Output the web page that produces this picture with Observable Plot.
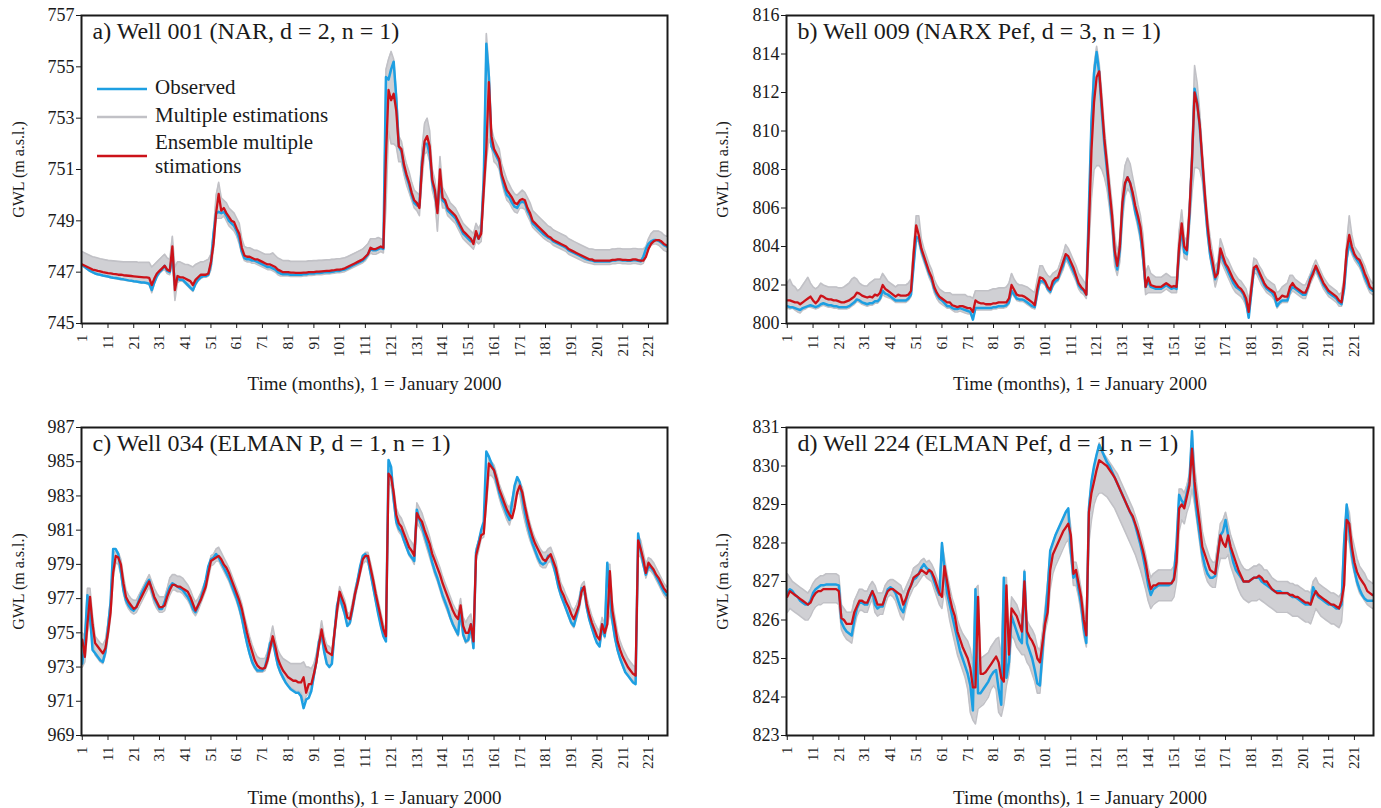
<!DOCTYPE html>
<html>
<head>
<meta charset="utf-8">
<script src="https://cdn.jsdelivr.net/npm/d3@7"></script>
<script src="https://cdn.jsdelivr.net/npm/@observablehq/plot@0.6"></script>
<style>
  html, body { margin: 0; padding: 0; background: #fff; }
  #page { position: relative; width: 1381px; height: 808px; overflow: hidden; background: #fff;
          font-family: "Liberation Serif", "Times New Roman", serif; }
  .panel { position: absolute; }
  .panel svg { display: block; overflow: visible; }
  #legend { position: absolute; left: 0; top: 0; pointer-events: none; }
</style>
</head>
<body>
<div id="page"></div>
<script>
// Monthly time axis: 1 = January 2000, 228 = December 2018
const months = d3.range(1, 229);
const xTickMonths = [1, 11, 21, 31, 41, 51, 61, 71, 81, 91, 101, 111, 121, 131, 141, 151, 161, 171, 181, 191, 201, 211, 221];

const xLabel = "Time (months), 1 = January 2000";
const yLabel = "GWL (m a.s.l.)";
const seriesNames = ["Observed", "Multiple estimations", ["Ensemble multiple", "stimations"]];

// ---------- Well 001 (NAR, d = 2, n = 1) ----------
const ticks001 = [745, 747, 749, 751, 753, 755, 757];
const obs001 = [
  747.28,747.20,747.12,747.05,747.00,746.95,746.92,746.90,746.87,746.85,746.83,746.80,
  746.78,746.77,746.75,746.73,746.72,746.70,746.68,746.67,746.65,746.64,746.62,746.60,
  746.60,746.58,746.55,746.30,746.60,746.85,747.00,747.10,747.25,747.05,747.00,747.70,
  746.50,746.75,746.70,746.70,746.60,746.50,746.40,746.30,746.55,746.70,746.80,746.85,
  746.85,746.90,747.30,748.50,749.30,749.35,749.30,749.35,749.20,749.00,748.90,748.80,
  748.60,748.30,747.80,747.55,747.50,747.50,747.45,747.45,747.40,747.35,747.30,747.25,
  747.20,747.20,747.15,747.10,747.00,746.95,746.92,746.92,746.92,746.90,746.90,746.90,
  746.90,746.90,746.92,746.92,746.95,746.95,746.95,746.97,746.97,746.98,747.00,747.00,
  747.00,747.02,747.03,747.05,747.05,747.08,747.10,747.15,747.20,747.25,747.30,747.35,
  747.40,747.45,747.55,747.70,747.90,747.85,747.85,747.90,747.95,747.90,754.60,754.50,
  754.90,755.20,753.80,751.90,751.70,751.10,750.70,750.40,750.00,749.70,749.60,749.60,
  751.30,752.00,752.00,751.60,750.50,750.10,749.40,750.60,749.80,749.70,749.40,749.30,
  749.20,749.10,748.90,748.70,748.50,748.40,748.30,748.20,748.20,748.50,748.30,748.60,
  750.60,755.90,754.60,751.90,751.70,751.50,751.30,750.70,750.30,750.00,749.90,749.70,
  749.55,749.50,749.70,749.75,749.70,749.40,749.20,748.90,748.80,748.70,748.60,748.50,
  748.42,748.35,748.30,748.20,748.15,748.10,748.05,748.00,747.95,747.85,747.80,747.75,
  747.70,747.65,747.60,747.55,747.50,747.47,747.45,747.42,747.42,747.42,747.42,747.42,
  747.42,747.42,747.45,747.45,747.47,747.47,747.45,747.45,747.44,747.44,747.46,747.46,
  747.44,747.42,747.60,747.90,748.10,748.20,748.25,748.25,748.22,748.15,748.05,748.00
];
const ens001 = [
  747.30,747.25,747.20,747.15,747.10,747.08,747.05,747.03,747.00,746.98,746.96,746.95,
  746.93,746.92,746.90,746.90,746.88,746.87,746.86,746.85,746.84,746.83,746.82,746.81,
  746.80,746.80,746.78,746.50,746.75,746.95,747.05,747.15,747.25,747.10,747.05,748.00,
  746.30,746.85,746.80,746.80,746.75,746.70,746.65,746.50,746.70,746.80,746.90,746.90,
  746.90,746.95,747.40,748.10,749.30,750.05,749.40,749.50,749.30,749.15,749.00,748.95,
  748.70,748.50,747.95,747.65,747.60,747.60,747.55,747.50,747.50,747.45,747.40,747.35,
  747.30,747.30,747.25,747.20,747.10,747.05,747.00,747.00,747.00,746.98,746.98,746.97,
  746.97,746.97,746.98,746.98,747.00,747.00,747.00,747.02,747.02,747.03,747.04,747.05,
  747.05,747.07,747.08,747.10,747.10,747.12,747.15,747.20,747.25,747.30,747.35,747.40,
  747.45,747.50,747.60,747.70,747.95,747.90,747.90,747.95,748.00,747.95,751.50,754.10,
  753.70,753.95,753.30,751.90,751.80,751.20,750.80,750.50,750.10,749.80,749.70,749.50,
  751.10,752.10,752.30,751.90,750.60,750.20,749.30,751.00,749.90,749.80,749.50,749.40,
  749.30,749.20,749.00,748.80,748.60,748.50,748.40,748.30,748.10,748.60,748.30,748.50,
  750.20,751.80,754.40,752.30,751.80,751.60,751.40,750.80,750.50,750.20,750.05,749.90,
  749.70,749.65,749.80,749.85,749.80,749.50,749.30,749.00,748.90,748.80,748.70,748.60,
  748.50,748.40,748.35,748.25,748.20,748.15,748.10,748.05,748.00,747.90,747.85,747.80,
  747.75,747.70,747.65,747.60,747.55,747.50,747.50,747.45,747.45,747.45,747.45,747.45,
  747.45,747.45,747.48,747.48,747.50,747.50,747.48,747.48,747.47,747.47,747.50,747.50,
  747.47,747.45,747.45,747.60,747.90,748.10,748.20,748.25,748.25,748.20,748.10,748.05
];
const estHi001 = [
  747.80,747.75,747.70,747.65,747.60,747.58,747.55,747.52,747.50,747.48,747.46,747.45,
  747.44,747.43,747.42,747.41,747.40,747.40,747.40,747.40,747.40,747.40,747.38,747.38,
  747.38,747.38,747.38,747.20,747.30,747.40,747.50,747.60,747.70,747.55,747.50,748.40,
  747.20,747.40,747.40,747.35,747.30,747.30,747.25,747.20,747.30,747.35,747.40,747.40,
  747.45,747.50,747.70,748.60,750.00,750.50,749.90,749.80,749.70,749.50,749.40,749.30,
  749.10,748.90,748.30,748.00,747.95,747.95,747.90,747.85,747.85,747.80,747.75,747.70,
  747.70,747.70,747.75,747.65,747.55,747.50,747.45,747.45,747.45,747.42,747.42,747.42,
  747.42,747.42,747.42,747.42,747.44,747.44,747.45,747.45,747.46,747.46,747.47,747.48,
  747.48,747.50,747.50,747.52,747.52,747.54,747.56,747.60,747.65,747.70,747.75,747.80,
  747.85,747.90,748.00,748.10,748.30,748.30,748.30,748.35,748.30,748.25,754.90,755.30,
  755.60,755.30,754.00,752.30,752.10,751.60,751.20,750.90,750.50,750.20,750.10,750.00,
  751.80,752.80,753.00,752.50,751.00,750.60,749.80,751.50,750.30,750.10,749.90,749.70,
  749.60,749.50,749.30,749.10,748.90,748.80,748.70,748.60,748.50,748.90,748.70,748.90,
  751.00,756.30,755.00,752.60,752.20,752.00,751.80,751.20,750.90,750.60,750.40,750.20,
  750.05,750.00,750.10,750.20,750.10,749.90,749.70,749.40,749.30,749.20,749.10,749.00,
  748.90,748.80,748.75,748.65,748.60,748.55,748.50,748.45,748.40,748.30,748.25,748.20,
  748.15,748.10,748.05,748.00,747.95,747.90,747.90,747.88,747.87,747.87,747.87,747.87,
  747.87,747.87,747.90,747.90,747.92,747.92,747.90,747.90,747.90,747.90,747.92,747.92,
  747.90,747.90,747.90,748.00,748.30,748.50,748.60,748.60,748.60,748.55,748.45,748.40
];
const estLo001 = [
  747.25,747.18,747.10,747.03,746.98,746.93,746.90,746.88,746.85,746.83,746.81,746.78,
  746.76,746.75,746.73,746.71,746.70,746.68,746.66,746.65,746.63,746.62,746.60,746.58,
  746.58,746.56,746.53,746.20,746.55,746.80,746.95,747.05,747.10,746.95,746.90,747.40,
  745.90,746.60,746.65,746.65,746.55,746.45,746.35,746.25,746.50,746.65,746.75,746.80,
  746.80,746.85,747.10,747.90,749.10,749.10,749.10,749.20,749.00,748.80,748.70,748.60,
  748.40,748.10,747.70,747.45,747.40,747.40,747.35,747.35,747.30,747.25,747.20,747.15,
  747.10,747.10,747.05,747.00,746.90,746.85,746.85,746.85,746.85,746.83,746.83,746.83,
  746.83,746.83,746.85,746.85,746.87,746.87,746.88,746.90,746.90,746.90,746.92,746.93,
  746.93,746.95,746.96,746.98,746.98,747.00,747.02,747.07,747.12,747.17,747.22,747.27,
  747.32,747.37,747.45,747.60,747.75,747.70,747.70,747.75,747.80,747.75,749.50,752.50,
  752.00,752.00,751.90,751.30,751.30,750.80,750.40,750.10,749.80,749.50,749.40,749.20,
  750.60,751.60,751.70,751.30,750.20,749.80,748.60,750.20,749.50,749.50,749.20,749.10,
  749.00,748.90,748.70,748.50,748.30,748.20,748.10,748.00,747.90,748.20,748.10,748.20,
  749.80,751.30,752.20,751.90,751.30,751.20,751.00,750.50,750.10,749.80,749.70,749.50,
  749.35,749.30,749.50,749.50,749.45,749.20,749.00,748.75,748.65,748.55,748.45,748.35,
  748.27,748.20,748.15,748.05,748.00,747.95,747.90,747.85,747.80,747.70,747.65,747.60,
  747.55,747.50,747.45,747.40,747.38,747.35,747.33,747.30,747.30,747.30,747.30,747.30,
  747.30,747.30,747.33,747.33,747.35,747.35,747.33,747.33,747.32,747.32,747.34,747.34,
  747.32,747.30,747.35,747.60,747.90,748.05,748.10,748.10,748.05,747.95,747.85,747.80
];

// ---------- Well 009 (NARX Pef, d = 3, n = 1) ----------
const ticks009 = [800, 802, 804, 806, 808, 810, 812, 814, 816];
const obs009 = [
  800.9,800.85,800.85,800.8,800.75,800.7,800.8,800.85,800.9,800.95,800.9,800.85,
  800.9,801.0,801.05,801.0,800.95,800.95,800.9,800.9,800.85,800.85,800.85,800.85,
  800.9,801.0,801.1,801.25,801.2,801.1,801.05,801.0,801.05,801.05,801.15,801.15,
  801.3,801.7,801.55,801.5,801.4,801.3,801.2,801.2,801.2,801.2,801.2,801.3,
  801.5,803.0,804.5,804.4,803.8,803.4,803.0,802.6,802.3,801.8,801.5,801.3,
  801.2,801.05,800.9,800.9,800.8,800.75,800.75,800.8,800.75,800.7,800.65,800.6,
  800.2,800.8,800.8,800.8,800.8,800.8,800.8,800.8,800.85,800.85,800.9,800.9,
  800.9,800.95,801.1,801.7,801.5,801.3,801.25,801.25,801.2,801.1,801.0,800.9,
  800.85,801.6,802.2,802.2,802.1,801.8,801.65,802.0,802.2,802.3,802.7,803.0,
  803.5,803.3,803.0,802.7,802.4,802.0,801.8,801.7,801.5,806.0,810.5,813.0,
  814.1,813.0,811.0,809.3,808.0,806.6,805.3,803.6,802.8,803.8,806.0,807.2,
  807.6,807.3,806.6,805.8,805.3,804.6,803.4,801.9,802.2,801.9,801.85,801.8,
  801.8,801.8,801.9,802.0,801.9,801.8,801.85,801.8,803.8,804.9,803.7,803.6,
  805.6,808.5,812.2,811.5,810.2,808.3,806.4,804.8,803.6,802.9,802.3,802.8,
  803.7,803.3,803.0,802.7,802.4,802.1,801.9,801.8,801.7,801.5,801.1,800.3,
  801.6,802.8,802.9,802.6,802.3,802.0,801.8,801.7,801.6,801.4,800.9,801.1,
  801.2,801.2,801.2,801.7,801.9,801.8,801.7,801.6,801.5,801.5,801.9,802.4,
  802.7,802.9,802.6,802.3,802.0,801.8,801.6,801.5,801.4,801.3,801.1,801.0,
  801.8,803.4,804.2,803.8,803.5,803.3,803.1,802.8,802.4,802.1,801.8,801.7
];
const ens009 = [
  801.2,801.2,801.15,801.1,801.1,801.0,801.1,801.2,801.3,801.4,801.2,801.05,
  801.2,801.45,801.4,801.3,801.25,801.25,801.2,801.2,801.15,801.1,801.1,801.15,
  801.2,801.3,801.4,801.6,801.55,801.45,801.4,801.35,801.4,801.35,801.5,801.45,
  801.6,802.0,801.8,801.7,801.6,801.5,801.4,801.5,801.45,801.45,801.45,801.5,
  801.7,803.6,805.1,804.6,803.9,803.5,803.1,802.7,802.4,801.9,801.6,801.4,
  801.3,801.2,801.1,801.1,800.95,800.9,800.85,800.9,800.9,800.85,800.8,800.8,
  800.6,801.2,801.1,801.05,801.05,801.0,801.0,801.0,801.05,801.05,801.1,801.1,
  801.1,801.1,801.3,802.0,801.75,801.5,801.45,801.45,801.4,801.3,801.2,801.1,
  800.95,801.8,802.4,802.35,802.2,801.9,801.75,802.2,802.35,802.4,802.8,803.2,
  803.6,803.5,803.2,802.9,802.5,802.1,801.9,801.75,801.5,805.0,809.0,811.5,
  812.8,813.1,811.4,809.6,808.3,806.9,805.6,803.8,803.0,804.0,806.3,807.3,
  807.6,807.3,806.8,806.1,805.6,805.0,803.8,801.9,802.4,802.0,801.95,801.9,
  801.9,801.9,802.0,802.1,802.0,801.9,801.95,801.9,804.0,805.2,804.0,803.8,
  805.8,808.5,812.0,811.4,810.3,808.5,806.7,805.1,803.9,803.2,802.4,802.6,
  803.9,803.5,803.1,802.9,802.6,802.3,802.1,801.9,801.8,801.6,801.3,800.6,
  801.8,802.9,803.0,802.7,802.4,802.1,801.9,801.8,801.7,801.6,801.2,801.3,
  801.45,801.4,801.4,801.9,802.1,801.9,801.8,801.7,801.6,801.6,801.9,802.3,
  802.6,803.0,802.7,802.4,802.1,801.9,801.7,801.6,801.5,801.4,801.2,801.1,
  802.1,803.8,804.6,804.0,803.6,803.4,803.3,803.0,802.6,802.3,801.9,801.8
];
const estHi009 = [
  802.1,802.3,802.0,801.9,801.7,801.8,802.0,802.2,802.4,802.1,801.9,801.8,
  801.9,802.1,802.0,801.95,801.9,801.9,801.9,801.9,801.85,801.85,801.9,802.0,
  802.1,802.3,802.4,802.3,802.1,802.0,801.95,801.95,802.1,802.2,802.3,802.3,
  802.3,802.6,802.4,802.2,802.1,802.0,801.9,802.0,802.0,802.0,802.0,802.1,
  802.3,804.0,805.6,805.6,804.4,803.9,803.5,803.1,802.8,802.3,802.0,801.8,
  801.7,801.6,801.6,801.6,801.5,801.5,801.5,801.5,801.5,801.5,801.4,801.4,
  801.3,801.7,801.7,801.7,801.7,801.7,801.7,801.75,801.8,801.8,801.85,801.85,
  801.85,801.9,802.1,802.6,802.3,802.1,802.0,802.0,801.95,801.9,801.8,801.7,
  801.6,802.3,803.0,803.0,802.7,802.5,802.4,802.6,802.7,802.8,803.2,803.6,
  804.1,803.9,803.6,803.3,803.0,802.6,802.4,802.2,802.0,806.2,810.8,813.4,
  814.4,813.5,812.0,810.2,808.8,807.5,806.2,804.6,803.6,804.5,807.0,808.2,
  808.6,808.3,807.6,806.9,806.2,805.6,804.6,802.6,803.0,802.6,802.5,802.4,
  802.4,802.4,802.5,802.6,802.5,802.4,802.4,802.4,804.8,805.9,804.5,804.3,
  806.3,809.2,813.4,812.5,811.0,809.0,807.2,805.6,804.5,803.7,802.9,803.2,
  804.4,804.0,803.5,803.3,803.0,802.7,802.5,802.3,802.2,802.0,801.8,801.2,
  802.2,803.4,803.3,803.0,802.8,802.5,802.3,802.2,802.1,802.0,801.6,801.7,
  801.9,802.0,802.1,802.5,802.5,802.3,802.2,802.1,802.0,802.0,802.3,802.6,
  803.0,803.3,803.0,802.7,802.4,802.2,802.0,801.9,801.8,801.7,801.5,801.6,
  802.4,804.2,805.6,804.6,804.0,803.8,803.6,803.3,803.0,802.6,802.3,802.1
];
const estLo009 = [
  800.8,800.75,800.8,800.7,800.6,800.55,800.7,800.75,800.85,800.85,800.8,800.75,
  800.8,800.9,800.95,800.9,800.85,800.85,800.8,800.8,800.75,800.75,800.75,800.75,
  800.8,800.9,801.0,801.15,801.1,801.0,800.95,800.9,800.95,800.95,801.05,801.05,
  801.2,801.5,801.4,801.35,801.3,801.2,801.1,801.1,801.1,801.1,801.1,801.2,
  801.4,802.9,804.4,804.2,803.6,803.2,802.8,802.4,802.1,801.6,801.3,801.1,
  801.0,800.9,800.8,800.8,800.7,800.6,800.6,800.65,800.6,800.55,800.5,800.5,
  800.3,800.7,800.7,800.7,800.7,800.7,800.7,800.7,800.75,800.75,800.8,800.8,
  800.8,800.85,801.0,801.6,801.4,801.2,801.15,801.15,801.1,801.0,800.9,800.8,
  800.75,801.4,802.1,802.1,802.0,801.7,801.55,801.9,802.1,802.2,802.5,802.8,
  803.3,803.1,802.8,802.5,802.2,801.8,801.6,801.5,801.3,804.0,806.5,808.0,
  808.2,808.2,808.0,807.6,807.0,806.0,804.8,803.0,802.5,803.2,805.3,806.6,
  807.0,806.8,806.3,805.6,805.0,804.3,803.2,801.5,801.6,801.6,801.6,801.6,
  801.6,801.6,801.7,801.8,801.7,801.6,801.6,801.6,803.2,804.4,803.4,803.3,
  805.0,806.8,808.1,808.1,808.0,807.4,806.0,804.5,803.4,802.7,801.9,802.4,
  803.3,803.0,802.7,802.4,802.1,801.8,801.6,801.5,801.4,801.2,800.9,800.3,
  801.4,802.6,802.6,802.3,802.0,801.8,801.6,801.5,801.4,801.2,800.8,801.0,
  801.1,801.1,801.1,801.5,801.7,801.6,801.5,801.4,801.3,801.3,801.7,802.1,
  802.4,802.7,802.4,802.1,801.8,801.6,801.4,801.3,801.2,801.1,800.9,800.9,
  801.7,803.2,804.0,803.6,803.3,803.1,802.9,802.6,802.2,801.9,801.6,801.5
];

// ---------- Well 034 (ELMAN P, d = 1, n = 1) ----------
const ticks034 = [969, 971, 973, 975, 977, 979, 981, 983, 985, 987];
const obs034 = [
  973.2,974.5,977.2,976.0,974.0,973.8,973.6,973.4,973.3,973.9,975.3,976.8,
  979.9,979.9,979.6,978.6,977.5,976.9,976.6,976.4,976.3,976.5,976.9,977.3,
  977.6,977.9,978.1,977.5,977.0,976.7,976.4,976.4,976.8,977.3,977.7,977.9,
  977.8,977.7,977.6,977.5,977.3,977.1,976.8,976.4,976.2,976.6,977.0,977.5,
  978.1,978.9,979.3,979.4,979.6,979.4,979.1,978.8,978.5,978.2,977.8,977.4,
  977.0,976.5,975.9,975.1,974.4,973.8,973.3,973.0,972.8,972.8,972.8,973.0,
  973.6,974.4,974.6,973.8,973.1,972.7,972.4,972.1,971.9,971.7,971.6,971.5,
  971.5,971.3,970.6,971.1,971.2,971.6,972.5,973.4,974.5,974.9,973.9,973.2,
  973.0,973.2,975.0,976.6,977.2,976.6,976.1,975.4,975.6,976.4,977.3,978.1,
  978.9,979.5,979.6,979.3,978.5,977.7,976.9,976.1,975.4,974.8,974.5,985.1,
  984.7,982.8,981.5,981.1,980.9,980.4,980.0,979.6,979.4,979.2,982.2,981.6,
  981.2,980.7,980.2,979.7,979.1,978.6,978.2,977.7,977.2,976.8,976.4,975.9,
  975.5,975.2,974.9,976.4,974.9,974.5,974.6,975.5,974.1,979.7,980.3,981.0,
  981.5,985.6,985.3,984.9,984.5,983.8,983.2,982.7,982.3,981.9,981.6,982.6,
  983.6,984.1,983.8,982.9,982.0,981.3,980.7,980.2,979.8,979.4,979.1,979.0,
  979.1,979.5,979.5,979.0,978.4,977.7,977.2,976.8,976.4,976.0,975.6,975.4,
  976.0,976.6,977.6,977.6,976.5,975.8,975.3,974.8,974.4,974.2,975.5,974.8,
  979.1,977.0,975.7,974.7,974.0,973.5,973.1,972.7,972.5,972.3,972.1,972.0,
  980.8,979.8,979.0,978.4,978.9,978.8,978.6,978.3,978.0,977.7,977.4,977.2
];
const ens034 = [
  974.6,973.6,975.5,977.1,975.5,974.4,974.2,974.0,973.8,974.1,975.0,976.2,
  978.5,979.5,979.4,979.0,977.9,977.1,976.8,976.6,976.4,976.5,976.8,977.1,
  977.4,977.7,978.0,977.6,977.1,976.8,976.5,976.5,976.6,977.1,977.5,977.8,
  977.8,977.7,977.7,977.6,977.5,977.4,977.1,976.7,976.3,976.6,976.9,977.3,
  977.7,978.5,979.2,979.3,979.4,979.5,979.3,979.0,978.8,978.5,978.1,977.7,
  977.3,976.9,976.4,975.7,975.0,974.4,973.9,973.4,973.1,972.95,972.9,972.95,
  973.4,974.1,974.8,974.2,973.5,973.1,972.8,972.6,972.4,972.3,972.2,972.2,
  972.1,972.1,972.4,971.5,972.0,972.0,972.6,973.3,974.3,975.2,974.4,973.9,
  973.8,973.7,975.0,976.3,977.4,977.0,976.6,975.9,975.8,976.5,977.3,977.9,
  978.6,979.3,979.5,979.5,978.8,978.1,977.3,976.6,975.9,975.2,974.8,984.3,
  984.1,983.2,981.9,981.4,981.2,980.8,980.4,980.0,979.8,979.5,982.0,981.7,
  981.5,981.0,980.6,980.2,979.6,979.2,978.8,978.4,977.9,977.5,977.1,976.7,
  976.3,976.0,975.8,976.6,975.4,975.0,975.0,975.5,974.5,979.5,980.1,980.7,
  980.8,982.8,984.9,984.7,984.5,984.0,983.4,983.0,982.6,982.2,981.9,981.7,
  982.3,983.2,983.6,983.2,982.4,981.7,981.1,980.6,980.2,979.9,979.6,979.3,
  979.2,979.4,979.6,979.2,978.8,978.1,977.5,977.2,976.8,976.5,976.1,975.8,
  976.2,976.6,977.4,977.7,976.7,976.1,975.6,975.2,974.8,974.6,975.5,975.0,
  975.5,978.6,976.3,975.4,974.5,974.0,973.6,973.3,973.0,972.8,972.6,972.5,
  980.4,979.9,979.3,978.5,979.1,978.9,978.7,978.4,978.2,977.9,977.6,977.4
];
const estHi034 = [
  975.0,974.8,977.6,977.6,976.0,974.8,974.6,974.4,974.3,974.6,975.6,977.0,
  979.6,979.8,979.7,979.3,978.3,977.5,977.2,977.0,976.9,976.9,977.2,977.5,
  977.8,978.1,978.4,978.0,977.6,977.3,977.1,977.1,977.1,977.6,978.2,978.4,
  978.4,978.3,978.3,978.2,978.0,977.8,977.5,977.1,976.8,977.0,977.3,977.7,
  978.1,978.8,979.5,979.6,979.9,980.0,979.7,979.4,979.1,978.8,978.4,978.0,
  977.6,977.2,976.7,976.0,975.4,974.8,974.3,973.9,973.6,973.5,973.5,973.5,
  973.9,974.6,975.4,974.6,974.0,973.7,973.5,973.4,973.3,973.2,973.2,973.2,
  973.2,973.2,973.3,973.0,973.0,972.9,973.2,973.8,974.7,975.7,974.8,974.3,
  974.2,974.0,975.3,976.6,977.7,977.3,976.9,976.2,976.1,976.8,977.6,978.2,
  978.9,979.5,979.7,979.7,979.1,978.4,977.6,976.9,976.2,975.5,975.1,985.0,
  984.6,983.5,982.3,981.9,981.7,981.3,980.9,980.5,980.3,980.0,982.6,982.3,
  982.0,981.5,981.1,980.6,980.0,979.6,979.2,978.8,978.3,977.9,977.5,977.1,
  976.7,976.4,976.2,977.0,975.9,975.6,975.9,976.1,975.2,979.9,980.4,981.0,
  981.2,983.2,985.2,985.0,984.8,984.3,983.7,983.3,982.9,982.5,982.3,982.8,
  983.6,983.9,983.8,983.5,982.7,982.0,981.4,980.9,980.5,980.2,979.9,979.7,
  979.7,979.9,980.0,979.6,979.2,978.5,977.9,977.6,977.2,976.9,976.5,976.3,
  976.6,977.0,977.8,978.0,977.1,976.5,976.0,975.6,975.3,975.1,975.9,975.5,
  979.0,979.0,976.8,975.9,975.0,974.5,974.1,973.8,973.5,973.3,973.1,973.0,
  980.7,980.4,979.7,979.0,979.4,979.3,979.1,978.8,978.5,978.2,977.9,977.7
];
const estLo034 = [
  973.0,973.3,975.0,975.8,974.8,973.7,973.5,973.3,973.2,973.7,974.7,975.9,
  978.2,979.1,979.0,978.4,977.3,976.7,976.4,976.2,976.1,976.2,976.5,976.8,
  977.1,977.4,977.7,977.2,976.7,976.4,976.2,976.2,976.3,976.8,977.2,977.5,
  977.5,977.4,977.4,977.3,977.1,976.9,976.6,976.2,976.0,976.3,976.7,977.1,
  977.5,978.2,978.9,979.0,979.2,979.2,978.9,978.6,978.3,978.0,977.6,977.2,
  976.8,976.3,975.7,975.0,974.3,973.7,973.2,972.9,972.7,972.7,972.7,972.8,
  973.2,973.9,974.4,973.7,973.0,972.6,972.3,972.1,971.9,971.8,971.7,971.6,
  971.6,971.5,971.0,971.3,971.5,971.7,972.4,973.2,974.2,974.7,973.8,973.2,
  973.0,973.2,974.7,976.0,976.9,976.5,976.0,975.4,975.5,976.2,977.0,977.7,
  978.4,979.0,979.2,979.1,978.4,977.6,976.8,976.1,975.4,974.8,974.5,983.8,
  983.6,982.6,981.3,980.9,980.7,980.3,979.9,979.5,979.3,979.0,981.4,981.2,
  980.9,980.4,979.9,979.4,978.9,978.4,978.0,977.5,977.0,976.6,976.2,975.8,
  975.4,975.1,974.8,975.8,974.8,974.4,974.5,974.9,974.1,979.2,979.8,980.5,
  980.6,982.4,984.2,984.2,984.0,983.5,982.9,982.4,982.0,981.6,981.3,981.9,
  982.8,983.2,983.1,982.2,981.5,980.9,980.4,980.0,979.6,979.2,978.9,978.8,
  978.8,979.1,979.2,978.8,978.3,977.6,977.1,976.7,976.3,975.9,975.5,975.3,
  975.8,976.3,977.1,977.4,976.4,975.7,975.2,974.8,974.4,974.2,975.1,974.7,
  975.4,976.2,975.5,974.6,973.9,973.4,973.0,972.7,972.5,972.3,972.2,972.1,
  979.6,979.4,978.9,978.2,978.7,978.6,978.4,978.1,977.8,977.5,977.2,977.0
];

// ---------- Well 224 (ELMAN Pef, d = 1, n = 1) ----------
const ticks224 = [823, 824, 825, 826, 827, 828, 829, 830, 831];
const obs224 = [
  826.7,826.8,826.75,826.65,826.6,826.5,826.45,826.4,826.4,826.5,826.7,826.8,
  826.85,826.9,826.9,826.92,826.92,826.92,826.92,826.92,826.9,825.95,825.8,825.7,
  825.65,825.6,826.0,826.3,826.45,826.45,826.4,826.4,826.6,826.75,826.4,826.3,
  826.35,826.35,826.6,826.8,826.85,826.8,826.7,826.5,826.3,826.2,826.5,826.75,
  826.9,827.05,827.1,827.2,827.35,827.45,827.35,827.3,827.2,827.0,826.8,826.65,
  828.0,827.3,826.7,826.4,826.1,825.8,825.5,825.2,825.0,824.8,824.6,824.3,
  823.65,826.8,824.1,824.1,824.2,824.3,824.4,824.55,824.65,824.7,824.2,823.8,
  827.1,824.5,824.9,826.1,825.9,825.7,825.5,825.4,827.25,825.4,825.2,825.0,
  824.7,824.35,824.3,825.2,826.0,826.8,827.8,828.0,828.2,828.35,828.5,828.65,
  828.8,828.9,827.8,827.1,827.2,826.8,826.4,825.8,825.4,828.9,829.6,830.0,
  830.3,830.55,830.4,830.25,830.1,830.0,829.85,829.7,829.55,829.4,829.25,829.1,
  828.95,828.8,828.65,828.45,828.2,827.95,827.65,827.3,826.9,826.65,826.8,826.85,
  826.9,826.9,826.9,826.9,826.9,826.95,827.1,828.0,829.25,829.1,829.0,829.3,
  829.6,830.9,829.3,828.7,828.2,827.7,827.4,827.2,827.1,827.1,827.15,827.7,
  828.2,828.3,828.6,828.2,827.8,827.5,827.3,827.2,827.1,827.0,827.0,827.0,
  827.05,827.1,827.1,827.1,827.0,826.95,826.9,826.85,826.8,826.75,826.75,826.75,
  826.7,826.7,826.7,826.65,826.6,826.6,826.55,826.5,826.45,826.4,826.4,826.4,
  826.85,826.7,826.6,826.55,826.5,826.45,826.4,826.4,826.35,826.3,826.3,826.4,
  828.0,829.0,828.3,827.7,827.3,827.0,826.8,826.65,826.55,826.5,826.5,826.5
];
const ens224 = [
  826.6,826.75,826.7,826.65,826.6,826.55,826.5,826.45,826.4,826.45,826.6,826.7,
  826.75,826.75,826.8,826.8,826.8,826.8,826.8,826.8,826.75,826.05,826.0,825.9,
  825.9,825.9,826.2,826.35,826.5,826.5,826.45,826.45,826.6,826.75,826.6,826.4,
  826.4,826.4,826.6,826.75,826.8,826.8,826.75,826.7,826.65,826.4,826.55,826.75,
  826.9,827.1,827.15,827.2,827.3,827.25,827.2,827.3,827.25,827.1,826.9,826.7,
  826.6,827.4,827.0,826.6,826.3,826.1,825.7,825.5,825.3,825.15,825.0,824.75,
  824.25,824.25,826.6,824.6,824.6,824.65,824.75,824.85,824.95,825.05,824.9,824.5,
  824.4,826.9,825.1,826.3,826.2,826.1,825.9,825.7,827.0,825.7,825.55,825.45,
  825.3,825.0,824.9,825.4,825.9,826.2,827.3,827.7,827.85,828.0,828.15,828.3,
  828.4,828.5,828.2,827.2,827.3,826.95,826.6,826.0,825.6,828.8,829.3,829.6,
  829.9,830.15,830.1,830.05,830.0,829.9,829.8,829.7,829.55,829.4,829.25,829.1,
  828.95,828.8,828.7,828.5,828.3,828.05,827.8,827.5,827.1,826.8,826.9,826.9,
  826.95,826.95,826.95,826.95,826.95,826.95,827.05,827.5,828.9,829.0,828.9,829.2,
  829.5,830.45,829.6,829.0,828.5,827.9,827.7,827.5,827.3,827.25,827.2,827.7,
  828.2,828.0,827.9,828.2,827.9,827.7,827.5,827.3,827.15,827.0,827.0,827.0,
  827.05,827.1,827.1,827.15,827.1,827.0,827.0,826.9,826.8,826.75,826.7,826.7,
  826.7,826.7,826.7,826.65,826.65,826.6,826.6,826.55,826.5,826.45,826.45,826.4,
  826.6,826.75,826.65,826.6,826.55,826.5,826.45,826.4,826.4,826.35,826.3,826.5,
  826.9,828.6,828.5,827.9,827.5,827.25,827.1,827.0,826.9,826.75,826.7,826.65
];
const estHi224 = [
  827.2,827.1,827.0,826.95,826.9,826.85,826.8,826.75,826.7,826.8,826.95,827.05,
  827.1,827.15,827.15,827.2,827.2,827.2,827.2,827.2,827.15,826.4,826.3,826.2,
  826.2,826.2,826.5,826.65,826.8,826.8,826.75,826.75,826.9,827.0,826.9,826.7,
  826.7,826.7,826.9,827.0,827.05,827.05,827.0,826.95,826.9,826.7,826.85,827.0,
  827.15,827.35,827.4,827.45,827.55,827.6,827.5,827.55,827.45,827.3,827.1,826.9,
  828.0,827.6,827.2,826.85,826.55,826.35,826.0,825.8,825.65,825.55,825.45,825.25,
  824.8,826.8,826.9,825.0,825.05,825.1,825.15,825.3,825.4,825.5,825.55,825.0,
  827.1,827.1,825.4,826.6,826.5,826.4,826.2,826.0,827.3,826.0,825.85,825.75,
  825.6,825.3,825.2,825.7,826.3,827.0,827.8,828.0,828.2,828.35,828.5,828.65,
  828.8,828.9,828.4,827.5,827.5,827.2,826.8,826.3,825.8,829.0,829.6,830.0,
  830.3,830.6,830.4,830.3,830.2,830.1,830.0,829.9,829.8,829.65,829.5,829.35,
  829.2,829.05,828.9,828.7,828.5,828.25,828.0,827.7,827.35,827.1,827.2,827.25,
  827.3,827.3,827.3,827.3,827.3,827.3,827.4,828.0,829.4,829.4,829.3,829.5,
  829.8,830.9,830.0,829.4,828.9,828.3,828.0,827.8,827.6,827.5,827.5,828.0,
  828.5,828.6,828.8,828.5,828.2,828.0,827.8,827.6,827.45,827.35,827.3,827.3,
  827.35,827.4,827.4,827.45,827.4,827.3,827.3,827.2,827.1,827.05,827.0,827.0,
  827.0,827.0,827.0,826.95,826.95,826.9,826.9,826.85,826.8,826.75,826.75,826.7,
  827.0,827.1,826.95,826.9,826.85,826.8,826.75,826.7,826.7,826.65,826.6,826.7,
  828.2,829.0,828.8,828.2,827.9,827.6,827.4,827.3,827.2,827.05,827.0,826.95
];
const estLo224 = [
  826.2,826.3,826.25,826.2,826.15,826.1,826.05,826.0,826.0,826.1,826.25,826.35,
  826.4,826.4,826.45,826.45,826.45,826.45,826.45,826.45,826.4,825.75,825.6,825.5,
  825.45,825.4,825.8,826.1,826.25,826.25,826.2,826.2,826.4,826.55,826.2,826.1,
  826.15,826.15,826.4,826.6,826.65,826.6,826.5,826.3,826.1,826.0,826.3,826.55,
  826.7,826.85,826.9,827.0,827.1,827.2,827.1,827.05,827.0,826.8,826.6,826.4,
  826.3,826.8,826.4,826.0,825.7,825.4,825.1,824.9,824.7,824.5,824.2,823.6,
  823.4,823.3,823.7,823.75,823.8,823.9,824.0,824.2,824.3,824.2,823.6,823.5,
  823.8,824.3,824.6,825.6,825.5,825.3,825.2,825.1,825.1,824.9,824.8,824.6,
  824.4,824.1,824.1,824.9,825.7,826.0,826.8,827.2,827.4,827.55,827.7,827.85,
  828.0,828.1,827.6,826.9,826.9,826.6,826.2,825.6,825.3,828.0,828.6,829.0,
  829.2,829.3,829.3,829.25,829.2,829.1,829.0,828.9,828.75,828.6,828.45,828.3,
  828.15,828.0,827.85,827.7,827.5,827.3,827.05,826.8,826.5,826.3,826.4,826.45,
  826.5,826.5,826.5,826.5,826.5,826.5,826.6,827.0,828.3,828.6,828.5,828.8,
  829.0,829.4,829.0,828.5,828.0,827.5,827.2,827.0,826.9,826.85,826.85,827.3,
  827.6,827.6,827.6,827.7,827.4,827.2,827.0,826.8,826.65,826.55,826.5,826.45,
  826.5,826.5,826.5,826.55,826.5,826.45,826.4,826.35,826.3,826.25,826.2,826.2,
  826.2,826.2,826.2,826.15,826.1,826.1,826.1,826.05,826.0,825.95,825.95,825.9,
  826.1,826.3,826.2,826.1,826.05,826.0,825.95,825.9,825.9,825.85,825.8,825.95,
  826.8,828.2,828.0,827.5,827.2,826.9,826.7,826.6,826.5,826.4,826.35,826.3
];

// ---------- styling ----------
const FONT = "'Liberation Serif', 'Times New Roman', serif";
const BLUE = "#1d9fe2";
const RED = "#cc1219";
const GRAY = "#c1c1c6";
const GRAY_FILL = "#d0d0d4";
const INK = "#1a1a1a";

// Panel layout on the 1381 x 808 page
const panels = [
  {title: "a) Well 001 (NAR, d = 2, n = 1)", obs: obs001, ens: ens001, hi: estHi001, lo: estLo001, ticks: ticks001,
   left: 0, top: 0, width: 690, height: 404, mt: 15, mb: 81, ml: 81, mr: 23, xlab: 60, ylab: -63},
  {title: "b) Well 009 (NARX Pef, d = 3, n = 1)", obs: obs009, ens: ens009, hi: estHi009, lo: estLo009, ticks: ticks009,
   left: 690, top: 0, width: 691, height: 404, mt: 15, mb: 81, ml: 96, mr: 8, xlab: 60, ylab: -64},
  {title: "c) Well 034 (ELMAN P, d = 1, n = 1)", obs: obs034, ens: ens034, hi: estHi034, lo: estLo034, ticks: ticks034,
   left: 0, top: 404, width: 690, height: 404, mt: 23, mb: 73, ml: 81, mr: 23, xlab: 62, ylab: -63},
  {title: "d) Well 224 (ELMAN Pef, d = 1, n = 1)", obs: obs224, ens: ens224, hi: estHi224, lo: estLo224, ticks: ticks224,
   left: 690, top: 404, width: 691, height: 404, mt: 23, mb: 73, ml: 96, mr: 8, xlab: 62, ylab: -64}
];

const page = document.getElementById("page");

for (const p of panels) {
  const rows = months.map((m, i) => ({m, obs: p.obs[i], ens: p.ens[i], hi: p.hi[i], lo: p.lo[i]}));
  const chart = Plot.plot({
    width: p.width,
    height: p.height,
    marginTop: p.mt,
    marginBottom: p.mb,
    marginLeft: p.ml,
    marginRight: p.mr,
    style: {fontFamily: FONT, color: INK, background: "white", overflow: "visible"},
    x: {domain: [0.7, 228.4]},
    y: {domain: [p.ticks[0], p.ticks[p.ticks.length - 1]]},
    marks: [
      Plot.areaY(rows, {x: "m", y1: "lo", y2: "hi", fill: GRAY_FILL}),
      Plot.line(rows, {x: "m", y: "hi", stroke: GRAY, strokeWidth: 1.6}),
      Plot.line(rows, {x: "m", y: "lo", stroke: GRAY, strokeWidth: 1.6}),
      Plot.line(rows, {x: "m", y: "obs", stroke: BLUE, strokeWidth: 2.5}),
      Plot.line(rows, {x: "m", y: "ens", stroke: RED, strokeWidth: 2.3}),
      Plot.axisY({ticks: p.ticks, tickSize: 5, tickPadding: 2, fontSize: 18, label: null}),
      Plot.axisX({ticks: xTickMonths, tickSize: 5, tickRotate: -90, tickPadding: 6, fontSize: 15, label: null}),
      Plot.frame({stroke: INK, strokeWidth: 2}),
      Plot.text([p.title], {frameAnchor: "top-left", dx: 11, dy: 6, fontSize: 24, textAnchor: "start", lineAnchor: "top"}),
      Plot.text([yLabel], {frameAnchor: "left", dx: p.ylab, rotate: -90, fontSize: 16, textAnchor: "middle", lineAnchor: "middle"}),
      Plot.text([xLabel], {frameAnchor: "bottom", dy: p.xlab, fontSize: 19, textAnchor: "middle", lineAnchor: "middle"})
    ]
  });
  const holder = document.createElement("div");
  holder.className = "panel";
  holder.style.left = p.left + "px";
  holder.style.top = p.top + "px";
  holder.appendChild(chart);
  page.appendChild(holder);
}

// Series key drawn inside panel a; the third entry wraps onto two lines
const ns = "http://www.w3.org/2000/svg";
const key = document.createElementNS(ns, "svg");
key.setAttribute("id", "legend");
key.setAttribute("width", 420);
key.setAttribute("height", 200);
const keyItems = [
  {color: BLUE, width: 2.6, y: 89, textY: 89, label: seriesNames[0]},
  {color: GRAY, width: 2.6, y: 117, textY: 117, label: seriesNames[1]},
  {color: RED, width: 2.4, y: 156, textY: 144, label: seriesNames[2]}
];
for (const item of keyItems) {
  const ln = document.createElementNS(ns, "line");
  ln.setAttribute("x1", 97); ln.setAttribute("x2", 147);
  ln.setAttribute("y1", item.y); ln.setAttribute("y2", item.y);
  ln.setAttribute("stroke", item.color); ln.setAttribute("stroke-width", item.width);
  key.appendChild(ln);
  const tx = document.createElementNS(ns, "text");
  tx.setAttribute("x", 155); tx.setAttribute("y", item.textY);
  tx.setAttribute("dominant-baseline", "middle");
  tx.setAttribute("font-family", FONT);
  tx.setAttribute("font-size", 21);
  tx.setAttribute("fill", INK);
  const parts = Array.isArray(item.label) ? item.label : [item.label];
  parts.forEach((part, i) => {
    const ts = document.createElementNS(ns, "tspan");
    ts.setAttribute("x", 155);
    ts.setAttribute("dy", i === 0 ? 0 : 24);
    ts.textContent = part;
    tx.appendChild(ts);
  });
  key.appendChild(tx);
}
page.appendChild(key);
</script>
</body>
</html>
